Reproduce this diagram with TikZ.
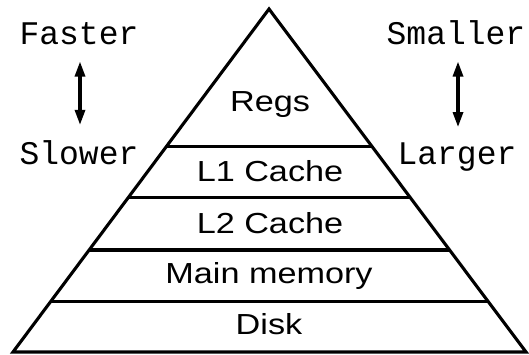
\documentclass[tikz,border=0pt]{standalone}
\usepackage{fontspec}
\setmonofont{Liberation Mono}
\newfontfamily\labfont[FakeStretch=1.18]{Liberation Sans}
\usetikzlibrary{calc,arrows.meta}
\begin{document}
\begin{tikzpicture}[x=1pt,y=-1pt,
  edge/.style={line width=3.1pt, line join=miter},
  band/.style={line width=3.1pt},
  lab/.style={font=\labfont\fontsize{29}{30}\selectfont, anchor=base, inner sep=0pt},
  side/.style={font=\ttfamily\fontsize{33}{35}\selectfont, anchor=base, inner sep=0pt},
  dbl/.style={line width=3.1pt, {Triangle[length=15pt,width=10pt]}-{Triangle[length=15pt,width=10pt]}}
]
\useasboundingbox (0,0) rectangle (529,354);
\coordinate (apex) at (269,9);
\coordinate (bl) at (13,352);
\coordinate (br) at (526,352);
\draw[edge] (bl) -- (apex) -- (br) -- cycle;
\foreach \t/\n in {0.4009/a,0.5496/b,0.7026/c,0.8528/d}{
  \coordinate (l\n) at ($(apex)!\t!(bl)$);
  \coordinate (r\n) at ($(apex)!\t!(br)$);
  \draw[band] (l\n) -- (r\n);
}
\node[lab] (regs) at (270,111.7) {Regs};
\node[lab] (l1) at (270,181) {L1 Cache};
\node[lab] (l2) at (270,233) {L2 Cache};
\node[lab] (mm) at (269,283.5) {Main memory};
\node[lab] (disk) at (269,334) {Disk};
\node[side] (faster) at (79,44) {Faster};
\node[side] (slower) at (79,164) {Slower};
\node[side] (smaller) at (456,44) {Smaller};
\node[side] (larger) at (457,164) {Larger};
\draw[dbl, shorten <=17pt, shorten >=15pt] (faster.south -| 80,0) -- (slower.north -| 80,0);
\draw[dbl, shorten <=17pt, shorten >=15pt] (smaller.south -| 458,0) -- (larger.north -| 458,0);
\end{tikzpicture}
\end{document}
